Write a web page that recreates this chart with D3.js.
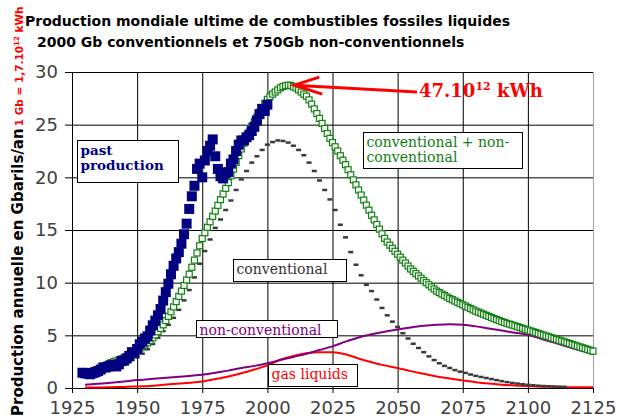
<!DOCTYPE html>
<html>
<head>
<meta charset="utf-8">
<script src="https://cdn.jsdelivr.net/npm/d3@7"></script>
<style>
    body { margin: 0; background: #fff; }
    svg { display: block; }
</style>
</head>
<body>
<div id="chart"></div>
<script>
// tick values
const xTicks = [1925, 1950, 1975, 2000, 2025, 2050, 2075, 2100, 2125];
const yTicks = [0, 5, 10, 15, 20, 25, 30];

// past production, one value per year from 1929
const pastStart = 1929;
const pastProd = [
    1.45,
    1.40, 1.37, 1.30, 1.42, 1.50, 1.60, 1.75, 1.95, 1.95, 2.05,
    2.15, 2.20, 2.05, 2.25, 2.55, 2.60, 2.80, 3.05, 3.40, 3.35,
    3.70, 4.15, 4.40, 4.70, 4.90, 5.45, 5.95, 6.40, 6.90, 7.50,
    8.30, 9.10, 9.90, 10.8, 11.6, 12.3, 12.9, 13.7, 14.6, 15.6,
    17.0, 18.2, 19.2, 20.8, 21.3, 20.0, 21.6, 22.5, 23.0, 23.6,
    22.0, 20.8, 20.1, 19.9, 20.4, 20.5, 21.3, 21.7, 22.5, 23.1,
    23.5, 23.5, 23.8, 24.0, 24.4, 24.8, 25.4, 26.0, 26.5, 26.3,
    26.9
];

// conventional + non-conventional, one value per year from 1930
const totalStart = 1930;
const totalProd = [
    1.50, 1.52, 1.55, 1.60, 1.66, 1.75, 1.86, 1.98, 2.12, 2.26,
    2.40, 2.50, 2.58, 2.66, 2.76, 2.88, 3.00, 3.14, 3.28, 3.44,
    3.60, 3.74, 3.90, 4.08, 4.28, 4.50, 4.76, 5.04, 5.34, 5.66,
    6.00, 6.40, 6.80, 7.24, 7.70, 8.20, 8.70, 9.20, 9.74, 10.26,
    10.80, 11.46, 12.14, 12.82, 13.50, 14.20, 14.74, 15.26, 15.78, 16.30,
    16.80, 17.34, 17.88, 18.42, 18.96, 19.50, 20.14, 20.78, 21.42, 22.06,
    22.70, 23.24, 23.78, 24.30, 24.82, 25.30, 25.74, 26.18, 26.60, 27.00,
    27.40, 27.66, 27.90, 28.10, 28.30, 28.50, 28.62, 28.70, 28.75, 28.72,
    28.60, 28.48, 28.30, 28.10, 27.90, 27.70, 27.35, 26.95, 26.50, 26.05,
    25.60, 25.12, 24.64, 24.16, 23.70, 23.30, 22.90, 22.50, 22.05, 21.62,
    21.20, 20.72, 20.24, 19.76, 19.28, 18.80, 18.32, 17.84, 17.36, 16.88,
    16.40, 15.96, 15.52, 15.08, 14.64, 14.20, 13.86, 13.56, 13.26, 12.98,
    12.70, 12.42, 12.14, 11.86, 11.58, 11.30, 11.08, 10.86, 10.64, 10.42,
    10.20, 10.00, 9.80, 9.60, 9.40, 9.20, 9.06, 8.92, 8.78, 8.64,
    8.50, 8.38, 8.26, 8.14, 8.02, 7.90, 7.78, 7.66, 7.54, 7.42,
    7.30, 7.20, 7.10, 7.00, 6.90, 6.80, 6.70, 6.60, 6.50, 6.40,
    6.30, 6.22, 6.14, 6.06, 5.98, 5.90, 5.82, 5.74, 5.66, 5.58,
    5.50, 5.42, 5.34, 5.26, 5.18, 5.10, 5.02, 4.94, 4.86, 4.78,
    4.70, 4.62, 4.54, 4.46, 4.38, 4.30, 4.22, 4.14, 4.06, 3.98,
    3.90, 3.82, 3.74, 3.66, 3.58, 3.50
];

// conventional, one value every 2 years from 1930
const convStart = 1930;
const convProd = [
    1.20, 1.30, 1.42, 1.58, 1.74,
    1.90, 2.06, 2.22, 2.40, 2.64,
    2.90, 3.26, 3.68, 4.18, 4.76,
    5.40, 6.00, 6.66, 7.42, 8.32,
    9.30, 10.5, 11.8, 13.0, 14.1,
    15.2, 16.0, 16.9, 17.8, 18.8,
    19.8, 20.6, 21.4, 22.0, 22.6,
    23.1, 23.35, 23.5, 23.45, 23.3,
    23.0, 22.6, 22.1, 21.4, 20.6,
    19.7, 18.8, 17.9, 16.9, 15.5,
    14.3, 12.9, 11.7, 10.7, 9.8,
    9.2, 8.4, 7.6, 6.9, 6.3,
    5.8, 5.2, 4.7, 4.2, 3.8,
    3.4, 3.0, 2.65, 2.35, 2.1,
    1.9, 1.7, 1.55, 1.43, 1.28,
    1.15, 1.05, 0.95, 0.85, 0.75,
    0.65, 0.56, 0.48, 0.42, 0.36,
    0.30, 0.26, 0.22, 0.19, 0.17,
    0.15, 0.13, 0.11
];

// line series, every 5 years
const lineYears = [
    1930, 1935, 1940, 1945, 1950, 1955, 1960, 1965, 1970, 1975,
    1980, 1985, 1990, 1995, 2000, 2005, 2010, 2015, 2020, 2025,
    2030, 2035, 2040, 2045, 2050, 2055, 2060, 2065, 2070, 2075,
    2080, 2085, 2090, 2095, 2100, 2105, 2110, 2115, 2120, 2125
];
const nonConv = [
    0.30, 0.40, 0.50, 0.62, 0.75, 0.85, 0.95, 1.05, 1.15, 1.25,
    1.45, 1.65, 1.90, 2.10, 2.35, 2.65, 2.95, 3.25, 3.60, 3.95,
    4.40, 4.80, 5.10, 5.35, 5.55, 5.75, 5.90, 6.00, 6.05, 6.00,
    5.85, 5.65, 5.45, 5.25, 5.05, 4.68, 4.31, 3.94, 3.57, 3.20
];
const gasLiquids = [
    0.05, 0.05, 0.08, 0.10, 0.15, 0.20, 0.30, 0.40, 0.50, 0.62,
    0.85, 1.10, 1.40, 1.75, 2.15, 2.70, 3.05, 3.30, 3.40, 3.40,
    3.20, 2.80, 2.45, 2.15, 1.90, 1.60, 1.35, 1.10, 0.90, 0.72,
    0.55, 0.42, 0.32, 0.24, 0.18, 0.13, 0.10, 0.08, 0.07, 0.06
];

(function () {
    const width = 621, height = 417;
    const padding = { top: 72, right: 28, bottom: 29, left: 72 };
    const innerWidth = width - padding.left - padding.right;
    const innerHeight = height - padding.top - padding.bottom;
    const sans = "DejaVu Sans, Verdana, sans-serif";
    const serif = "DejaVu Serif, Georgia, serif";

    const svg = d3.select("#chart").append("svg").attr("width", width).attr("height", height);

    const xScale = d3.scaleLinear().domain([1925, 2125]).range([0, innerWidth]);
    const yScale = d3.scaleLinear().domain([0, 30]).range([innerHeight, 0]);

    const g = svg.append("g").attr("transform", `translate(${padding.left},${padding.top})`);

    // grid
    const gridX = g.append("g").attr("transform", `translate(0,${innerHeight})`)
        .call(d3.axisBottom(xScale).tickValues(xTicks).tickSize(-innerHeight).tickFormat(""));
    gridX.select(".domain").remove();
    gridX.selectAll("line").attr("stroke", (d) => d === 2125 ? "#a0a0a0" : "#000");
    const gridY = g.append("g")
        .call(d3.axisLeft(yScale).tickValues(yTicks).tickSize(-innerWidth).tickFormat(""));
    gridY.select(".domain").remove();
    gridY.selectAll("line").attr("stroke", "#000");

    // axes
    const ax = g.append("g").attr("transform", `translate(0,${innerHeight})`)
        .call(d3.axisBottom(xScale).tickValues(xTicks).tickSize(5).tickPadding(8).tickFormat(d3.format("d")));
    ax.select(".domain").attr("stroke", "#000");
    ax.selectAll("line").attr("stroke", "#000");
    ax.selectAll("text").attr("font-family", sans).attr("font-size", 18).attr("fill", "#404040");
    const ay = g.append("g")
        .call(d3.axisLeft(yScale).tickValues(yTicks).tickSize(7).tickPadding(7));
    ay.select(".domain").attr("stroke", "#000");
    ay.selectAll("line").attr("stroke", "#000");
    ay.selectAll("text").attr("font-family", sans).attr("font-size", 18).attr("fill", "#404040");

    // lines
    const line = d3.line().x((d) => xScale(d[0])).y((d) => yScale(d[1])).curve(d3.curveMonotoneX);
    g.append("path").datum(lineYears.map((y, i) => [y, gasLiquids[i]]))
        .attr("d", line).attr("fill", "none").attr("stroke", "#ff0000").attr("stroke-width", 2);
    g.append("path").datum(lineYears.map((y, i) => [y, nonConv[i]]))
        .attr("d", line).attr("fill", "none").attr("stroke", "#800080").attr("stroke-width", 2);

    // conventional (dash markers)
    g.selectAll(".conv").data(convProd).enter().append("rect")
        .attr("x", (d, i) => xScale(convStart + i * 2) - 2.5)
        .attr("y", (d) => yScale(d) - 1.25)
        .attr("width", 5).attr("height", 2.5)
        .attr("fill", "#3a3a3a");

    // conventional + non-conventional (open squares)
    g.selectAll(".total").data(totalProd).enter().append("rect")
        .attr("x", (d, i) => xScale(totalStart + i) - 3)
        .attr("y", (d) => yScale(d) - 3)
        .attr("width", 6).attr("height", 6)
        .attr("fill", "#fff").attr("stroke", "#108010").attr("stroke-width", 1.2);

    // past production (filled squares)
    g.selectAll(".past").data(pastProd).enter().append("rect")
        .attr("x", (d, i) => xScale(pastStart + i) - 5)
        .attr("y", (d) => yScale(d) - 5)
        .attr("width", 10).attr("height", 10)
        .attr("fill", "#000080");

    // labels in boxes
    function box(x, y, w, h, lines, color, bold) {
        svg.append("rect").attr("x", x).attr("y", y).attr("width", w).attr("height", h)
            .attr("fill", "#fff").attr("stroke", "#000").attr("stroke-width", 1);
        lines.forEach((t, i) => {
            svg.append("text").attr("x", x + 3).attr("y", y + 14 + i * 15)
                .attr("font-family", serif).attr("font-size", bold ? 13.5 : 14)
                .attr("font-weight", bold ? "bold" : "normal")
                .attr("fill", color).text(t);
        });
    }
    box(77.5, 140.5, 101, 42, ["past", "production"], "#000080", true);
    box(363.5, 132.5, 159, 36, ["conventional + non-", "conventional"], "#108010", false);
    box(233.5, 259.5, 113, 22, ["conventional"], "#333", false);
    box(196.5, 320.5, 141, 17, ["non-conventional"], "#800080", false);
    box(268.5, 364.5, 89, 22, ["gas liquids"], "#ff0000", false);

    // arrow to the peak
    const peak = d3.greatest(totalProd.map((v, i) => [totalStart + i, v]), (d) => d[1]);
    const tipX = padding.left + xScale(peak[0]) + 6, tipY = padding.top + yScale(peak[1]);
    svg.append("path")
        .attr("d", `M417,92 L${tipX},${tipY} M${tipX + 25},${tipY - 8} L${tipX},${tipY} L${tipX + 28},${tipY + 9}`)
        .attr("fill", "none").attr("stroke", "#ff0000").attr("stroke-width", 3).attr("stroke-linejoin", "miter");
    const kwh = svg.append("text").attr("x", 419).attr("y", 97)
        .attr("font-family", serif).attr("font-size", 18).attr("font-weight", "bold")
        .attr("fill", "#ff0000");
    kwh.append("tspan").text("47.10");
    kwh.append("tspan").attr("dy", -7).attr("font-size", 11).text("12");
    kwh.append("tspan").attr("dy", 7).text(" kWh");

    // title
    svg.append("text").attr("x", 25).attr("y", 26)
        .attr("font-family", sans).attr("font-size", 14)
        .attr("font-weight", "bold").attr("fill", "#000")
        .text("Production mondiale ultime de combustibles fossiles liquides");
    svg.append("text").attr("x", 37).attr("y", 47)
        .attr("font-family", sans).attr("font-size", 14)
        .attr("font-weight", "bold").attr("fill", "#000")
        .text("2000 Gb conventionnels et 750Gb non-conventionnels");

    // y title
    const yt = svg.append("text").attr("transform", "translate(23,416) rotate(-90)")
        .attr("font-family", sans).attr("font-weight", "bold");
    yt.append("tspan").attr("font-size", 15).attr("fill", "#000").text("Production annuelle en Gbarils/an");
    yt.append("tspan").attr("font-size", 10.5).attr("fill", "#ff0000").attr("dx", 2).text("1 Gb = 1,7.10");
    yt.append("tspan").attr("font-size", 7).attr("fill", "#ff0000").attr("dy", -4).text("12");
    yt.append("tspan").attr("font-size", 10.5).attr("fill", "#ff0000").attr("dy", 4).text(" kWh");
})();
</script>
</body>
</html>
